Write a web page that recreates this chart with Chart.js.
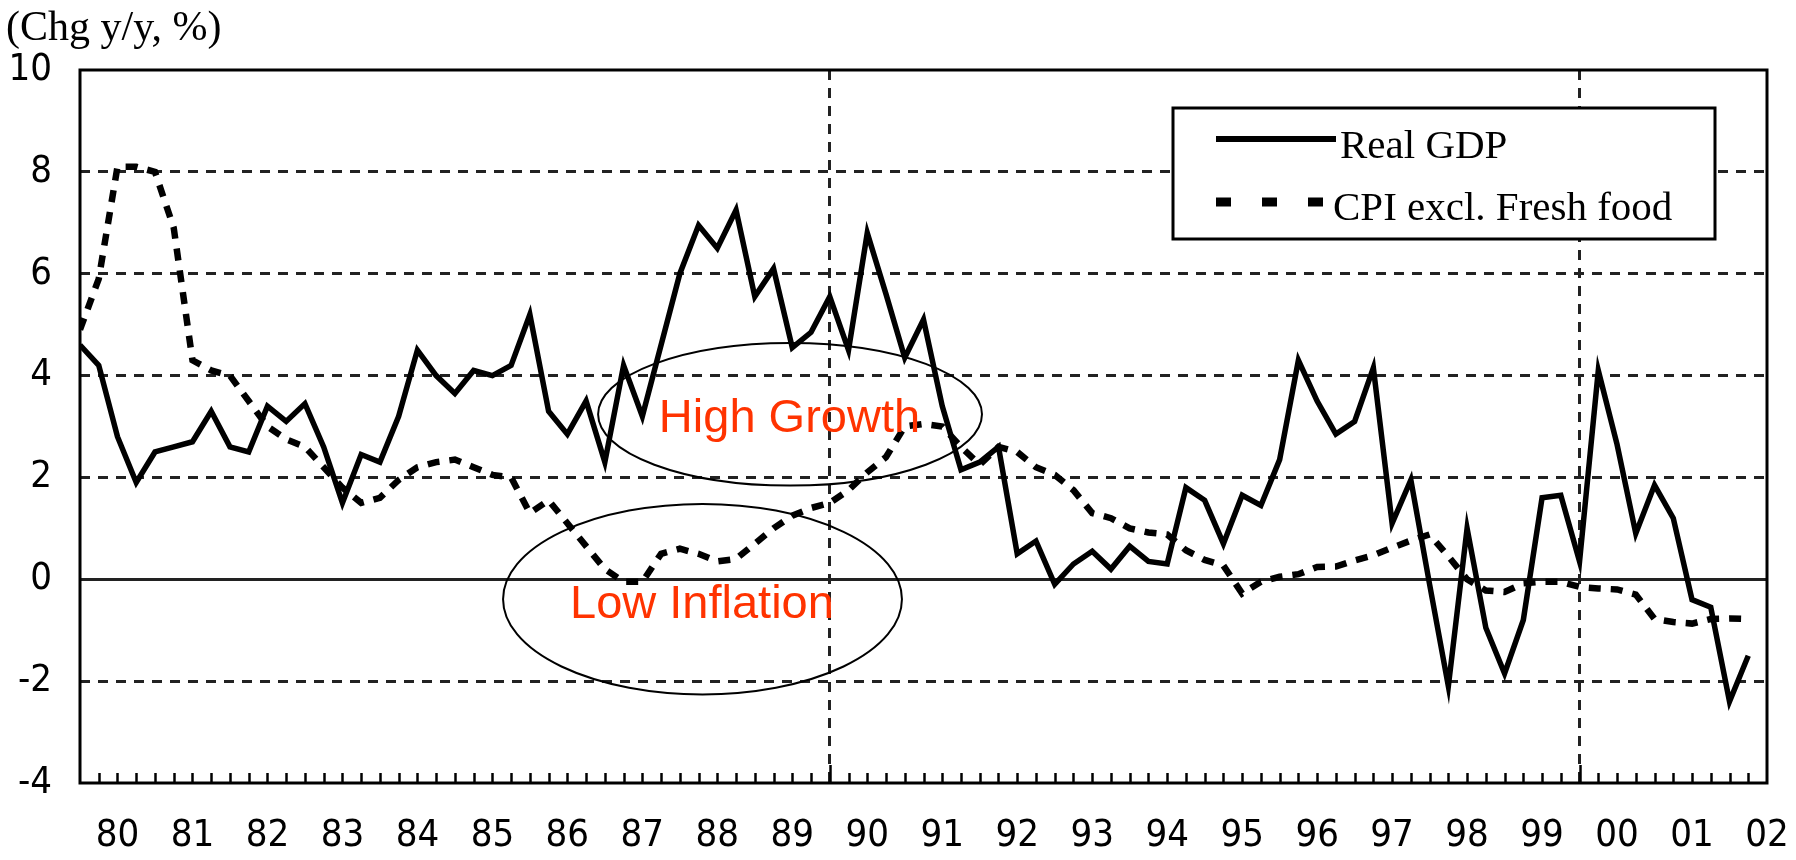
<!DOCTYPE html>
<html>
<head>
<meta charset="utf-8">
<title>Real GDP and CPI</title>
<script src="https://cdn.jsdelivr.net/npm/chart.js@4.4.1/dist/chart.umd.min.js"></script>
<style>
  body { margin: 0; background: #fff; }
  #wrap { width: 1796px; height: 860px; }
</style>
</head>
<body>
<div id="wrap"><canvas id="myChart" width="1796" height="860"></canvas></div>
<script>
// quarterly, 1980Q1 .. 2002Q2 (index 0 .. 89)
const yearLabels = ["80", "81", "82", "83", "84", "85", "86", "87", "88", "89", "90",
  "91", "92", "93", "94", "95", "96", "97", "98", "99", "00", "01", "02"];

const realGdp = [
  4.6, 4.2, 2.8, 1.9, 2.5, 2.6, 2.7, 3.3, 2.6, 2.5,
  3.4, 3.1, 3.45, 2.6, 1.5, 2.45, 2.3, 3.2, 4.5, 4.0,
  3.65, 4.1, 4.0, 4.2, 5.2, 3.3, 2.85, 3.5, 2.3, 4.2,
  3.2, 4.6, 6.0, 6.95, 6.5, 7.25, 5.55, 6.1, 4.55, 4.85,
  5.55, 4.5, 6.8, 5.6, 4.35, 5.1, 3.4, 2.15, 2.3, 2.6,
  0.5, 0.75, -0.1, 0.3, 0.55, 0.2, 0.65, 0.35, 0.3, 1.8,
  1.55, 0.7, 1.65, 1.45, 2.35, 4.3, 3.5, 2.85, 3.1, 4.15,
  1.1, 1.95, -0.1, -2.1, 1.0, -0.95, -1.85, -0.8, 1.6, 1.65,
  0.35, 4.1, 2.65, 0.9, 1.85, 1.2, -0.4, -0.55, -2.4, -1.5
];

const cpiExFresh = [
  4.9, 5.9, 8.1, 8.1, 8.0, 6.9, 4.3, 4.1, 4.0, 3.5,
  3.0, 2.75, 2.6, 2.2, 1.8, 1.5, 1.6, 1.95, 2.2, 2.3,
  2.35, 2.2, 2.05, 2.0, 1.3, 1.55, 1.1, 0.65, 0.2, -0.05,
  -0.05, 0.5, 0.6, 0.5, 0.35, 0.4, 0.7, 1.0, 1.25, 1.4,
  1.5, 1.75, 2.1, 2.4, 3.0, 3.05, 3.0, 2.6, 2.25, 2.6,
  2.5, 2.2, 2.05, 1.75, 1.3, 1.2, 1.0, 0.92, 0.88, 0.57,
  0.38, 0.27, -0.28, -0.05, 0.05, 0.1, 0.24, 0.25, 0.37, 0.47,
  0.62, 0.76, 0.88, 0.45, 0.0, -0.22, -0.25, -0.08, -0.05, -0.05,
  -0.15, -0.18, -0.2, -0.3, -0.78, -0.84, -0.87, -0.78, -0.77, -0.78
];

const seriesNames = ["Real GDP", "CPI excl. Fresh food"];
const unitLabel = "(Chg y/y, %)";

// circled notes, in data units (quarter index, percent)
const notes = [
  { text: "High Growth", cx: 37.88, cy: 3.24, rx: 10.24, ry: 1.40, tx: 37.85, ty: 2.89 },
  { text: "Low Inflation", cx: 33.21, cy: -0.39, rx: 10.64, ry: 1.87, tx: 33.18, ty: -0.76 }
];

const serif = "'Liberation Serif', 'DejaVu Serif', serif";
const tickFont = { family: "'Liberation Sans Narrow', 'DejaVu Sans Condensed', 'Liberation Sans', sans-serif", size: 38 };
const gridDash = [10, 8];

const framePlugin = {
  id: "frame",
  afterDatasetsDraw(chart) {
    const { ctx, chartArea: a, scales } = chart;
    const xs = scales.x;
    ctx.save();
    ctx.strokeStyle = "#000";
    ctx.lineWidth = 3;
    ctx.strokeRect(a.left, a.top, a.right - a.left, a.bottom - a.top);
    // quarter ticks pointing into the plot
    ctx.lineWidth = 2.5;
    for (let i = 1; i < 90; i++) {
      const x = Math.round(xs.getPixelForValue(i)) + 0.5;
      const len = i % 40 === 0 ? 18 : 10;
      ctx.beginPath();
      ctx.moveTo(x, a.bottom);
      ctx.lineTo(x, a.bottom - len);
      ctx.stroke();
    }
    ctx.restore();
  }
};

const notesPlugin = {
  id: "notes",
  afterDatasetsDraw(chart) {
    const { ctx, scales } = chart;
    const xs = scales.x, ys = scales.y;
    ctx.save();
    notes.forEach(n => {
      const cx = xs.getPixelForValue(n.cx);
      const cy = ys.getPixelForValue(n.cy);
      const rx = xs.getPixelForValue(n.cx + n.rx) - cx;
      const ry = cy - ys.getPixelForValue(n.cy + n.ry);
      ctx.beginPath();
      ctx.ellipse(cx, cy, rx, ry, 0, 0, Math.PI * 2);
      ctx.strokeStyle = "#000";
      ctx.lineWidth = 2;
      ctx.stroke();
      ctx.fillStyle = "#ff3300";
      ctx.font = "47px 'Liberation Sans', Arial, sans-serif";
      ctx.textAlign = "center";
      ctx.textBaseline = "alphabetic";
      ctx.fillText(n.text, xs.getPixelForValue(n.tx), ys.getPixelForValue(n.ty));
    });
    ctx.restore();
  }
};

const legendBoxPlugin = {
  id: "legendBox",
  afterDraw(chart) {
    const { ctx } = chart;
    const ds = chart.data.datasets;
    ctx.save();
    ctx.fillStyle = "#fff";
    ctx.fillRect(1173, 108, 542, 131);
    ctx.strokeStyle = "#000";
    ctx.lineWidth = 3;
    ctx.strokeRect(1173, 108, 542, 131);

    ctx.lineWidth = 6;
    ctx.beginPath();
    ctx.moveTo(1216, 139);
    ctx.lineTo(1336, 139);
    ctx.stroke();

    ctx.lineWidth = 9;
    ctx.setLineDash([15, 31]);
    ctx.beginPath();
    ctx.moveTo(1216, 202);
    ctx.lineTo(1323, 202);
    ctx.stroke();
    ctx.setLineDash([]);

    ctx.fillStyle = "#000";
    ctx.font = "41px " + serif;
    ctx.textBaseline = "alphabetic";
    ctx.fillText(ds[0].label, 1340, 158);
    ctx.fillText(ds[1].label, 1333, 220);

    ctx.font = "42px " + serif;
    ctx.fillText(unitLabel, 6, 40);
    ctx.restore();
  }
};

const ctx = document.getElementById("myChart");

new Chart(ctx, {
  type: "line",
  data: {
    datasets: [
      {
        label: seriesNames[0],
        data: realGdp.map((v, i) => ({ x: i, y: v })),
        borderColor: "#000",
        borderWidth: 5.5,
        pointRadius: 0,
        tension: 0,
        fill: false
      },
      {
        label: seriesNames[1],
        data: cpiExFresh.map((v, i) => ({ x: i, y: v })),
        borderColor: "#000",
        borderWidth: 6.5,
        borderDash: [12, 10],
        pointRadius: 0,
        tension: 0,
        fill: false
      }
    ]
  },
  options: {
    responsive: false,
    animation: false,
    layout: { padding: { top: 70, right: 29, left: 0, bottom: 0 } },
    plugins: {
      legend: { display: false },
      tooltip: { enabled: false }
    },
    scales: {
      x: {
        type: "linear",
        min: 0,
        max: 90,
        afterFit: s => { s.height = 77; s.paddingLeft = 0; s.paddingRight = 0; },
        ticks: {
          stepSize: 1,
          autoSkip: false,
          maxRotation: 0,
          padding: 30,
          font: tickFont,
          color: "#000",
          callback: v => (v % 4 === 2 ? yearLabels[(v - 2) / 4] : "")
        },
        grid: {
          drawTicks: false,
          lineWidth: 3,
          color: c => (c.tick && (c.tick.value === 40 || c.tick.value === 80)) ? "#222" : "rgba(0,0,0,0)"
        },
        border: { display: false, dash: gridDash }
      },
      y: {
        min: -4,
        max: 10,
        afterFit: s => { s.width = 80; s.paddingTop = 0; s.paddingBottom = 0; },
        ticks: {
          stepSize: 2,
          padding: 28,
          font: tickFont,
          color: "#000"
        },
        grid: {
          drawTicks: false,
          lineWidth: 3,
          color: c => (c.tick && (c.tick.value === -4 || c.tick.value === 10)) ? "rgba(0,0,0,0)" : "#222"
        },
        border: {
          display: false,
          dash: c => (c.tick && c.tick.value === 0) ? [] : gridDash
        }
      }
    }
  },
  plugins: [framePlugin, notesPlugin, legendBoxPlugin]
});
</script>
</body>
</html>
